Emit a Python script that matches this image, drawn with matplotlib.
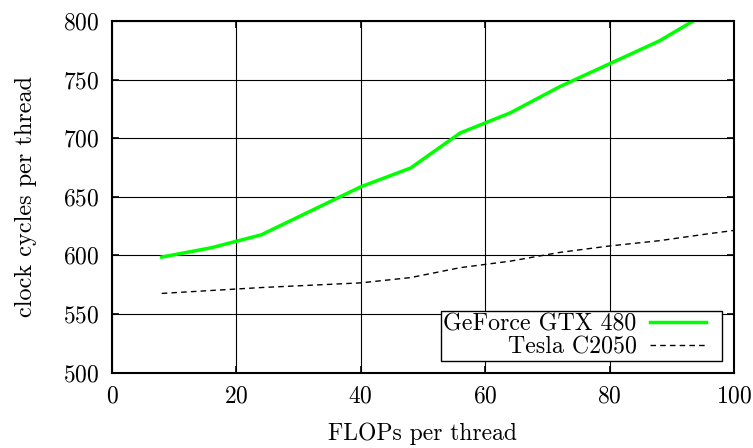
import matplotlib
matplotlib.use("Agg")
import matplotlib.pyplot as plt
from matplotlib.legend_handler import HandlerLine2D

plt.rcParams['font.family'] = 'serif'
plt.rcParams['font.serif'] = ['cmr10']
plt.rcParams['mathtext.fontset'] = 'cm'
plt.rcParams['axes.formatter.use_mathtext'] = True

flops = [8, 16, 24, 32, 40, 48, 56, 64, 72, 80, 88, 96, 104]
gtx480 = [598.5, 606.5, 617.5, 638, 658.5, 674.5, 704.5, 721.5, 744, 763.5, 783, 808, 830]
c2050 = [567.5, 570, 572.5, 574.5, 576.5, 581, 589.5, 595, 602.5, 608, 612.5, 618.5, 624]

xticks = [0, 20, 40, 60, 80, 100]
yticks = [500, 550, 600, 650, 700, 750, 800]


class ShortLine(HandlerLine2D):
    def create_artists(self, legend, orig_handle, xdescent, ydescent, width,
                       height, fontsize, trans):
        return super().create_artists(legend, orig_handle, xdescent, ydescent,
                                      width - 0.6 * fontsize, height, fontsize, trans)


fig = plt.figure(figsize=(7.53, 4.48), dpi=100)
ax = fig.add_axes([112/753, 1 - 372.5/448, (734-112)/753, (372.5-21)/448])

l1, = ax.plot(flops, gtx480, color='#00ff00', lw=2.5, label='GeForce GTX 480')
l2, = ax.plot(flops, c2050, color='black', lw=1.0, ls=(0, (4, 3)), label='Tesla C2050')

ax.set_xlim(0, 100)
ax.set_ylim(500, 800)
ax.set_xticks(xticks)
ax.set_yticks(yticks)
ax.grid(True, color='black', lw=0.8)
ax.set_axisbelow(True)
ax.tick_params(direction='in', top=True, right=True, length=5, width=1.2,
               labelsize=17)
ax.tick_params(axis='x', pad=9)
ax.tick_params(axis='y', pad=9)
for s in ax.spines.values():
    s.set_linewidth(1.5)

ax.set_xlabel('FLOPs per thread', fontsize=17, labelpad=11)
ax.set_ylabel('clock cycles per thread', fontsize=17.5, labelpad=19)

leg = ax.legend(loc='lower right', markerfirst=False, fontsize=17.2,
                frameon=True, fancybox=False, borderpad=0.08,
                handlelength=2.95, handletextpad=0.55, labelspacing=0.05,
                borderaxespad=0.5, bbox_to_anchor=(1.0, 0.0),
                handler_map={l1: ShortLine(), l2: ShortLine()})
leg.get_frame().set_edgecolor('black')
leg.get_frame().set_linewidth(1.0)
leg.get_frame().set_alpha(1)
for t in leg.get_texts():
    t.set_ha('right')

fig.savefig('out.png', dpi=100)
